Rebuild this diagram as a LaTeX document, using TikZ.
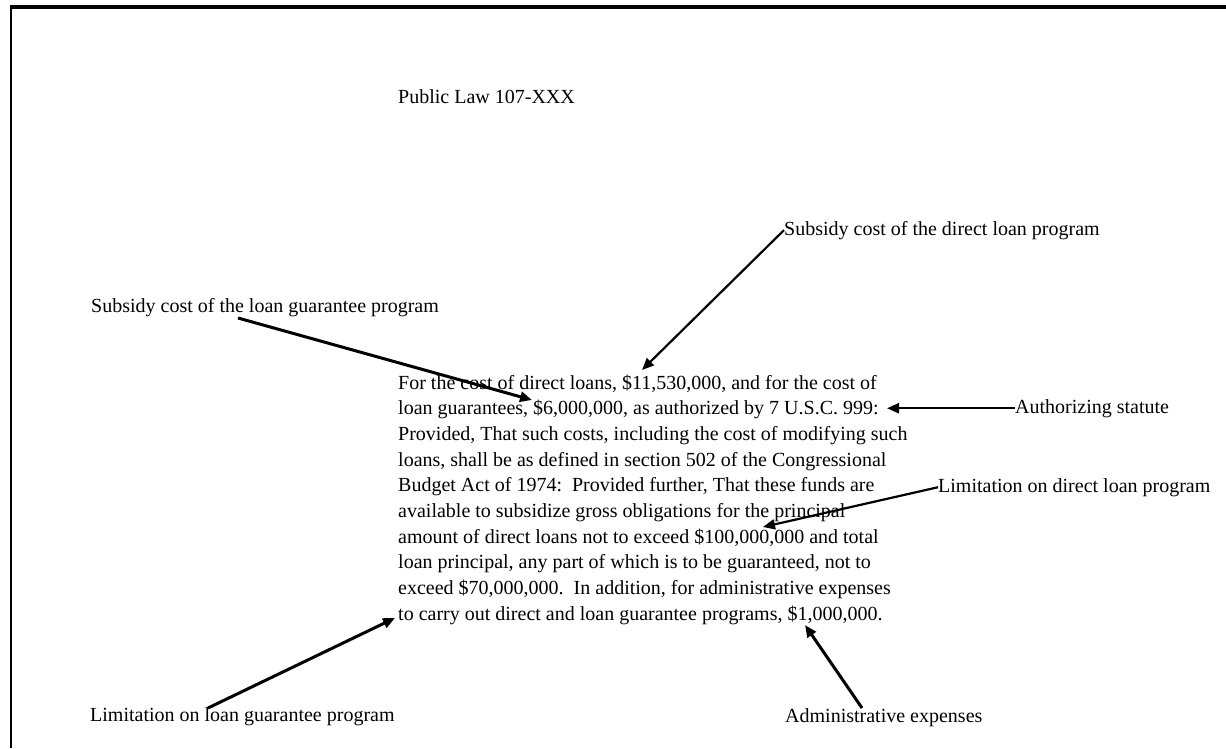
\documentclass[tikz,border=0pt]{standalone}
\usepackage{fontspec}
\setmainfont{Liberation Serif}
\usetikzlibrary{arrows.meta}
\tikzset{every node/.style={
inner sep=0pt,
font=\fontsize{20}{24}\selectfont},
lbl/.style={anchor=base west},
ptr/.style={
draw,
line width=2.2pt,
-{Triangle[length=12pt,width=10pt]}},
heavy/.style={line width=3pt}}

\begin{document}
\begin{tikzpicture}[x=1pt,y=-1pt]
\useasboundingbox (0,0) rectangle (1226,748);
\draw[line width=4pt] (10,7) -- (1226,7);
\draw[line width=2.5pt] (11,5) -- (11,748);
\node[lbl] (title) at (398,103) {Public Law 107-XXX};
\foreach \txt [count=\i] in {
{For the cost of direct loans, \$11,530,000, and for the cost of},
{loan guarantees, \$6,000,000, as authorized by 7 U.S.C. 999:},
{Provided, That such costs, including the cost of modifying such},
{loans, shall be as defined in section 502 of the Congressional},
{Budget Act of 1974:\ \ Provided further, That these funds are},
{available to subsidize gross obligations for the principal},
{amount of direct loans not to exceed \$100,000,000 and total},
{loan principal, any part of which is to be guaranteed, not to},
{exceed \$70,000,000.\ \ In addition, for administrative expenses},
{to carry out direct and loan guarantee programs, \$1,000,000.}}
\node[lbl] (ln\i) at (398,{389+(\i-1)*25.7}) {\txt};
\node[lbl] (dirsub) at (784,235) {Subsidy cost of the direct loan program};
\node[lbl] (gtysub) at (91,312) {Subsidy cost of the loan guarantee program};
\node[lbl] (statute) at (1015,413) {Authorizing statute};
\node[lbl] (dirlim) at (938,492) {Limitation on direct loan program};
\node[lbl] (gtylim) at (90,721) {Limitation on loan guarantee program};
\node[lbl] (admin) at (785,722) {Administrative expenses};
% arrow ends
\coordinate (gtyfrom) at (238,318);
\coordinate (limfrom) at (208,708);
\coordinate (admfrom) at (862,708);
\coordinate (dirto) at (642,370);
\coordinate (gtyto) at (532,400);
\coordinate (statto) at (887,407);
\coordinate (limto) at (763,527);
\coordinate (gltto) at (395,618);
\coordinate (admto) at (805,625);
\draw[ptr] (dirsub.west) -- (dirto);
\draw[ptr,heavy] (gtyfrom) -- (gtyto);
\draw[ptr] (statute.west) -- (statute.west -| statto);
\draw[ptr] (dirlim.west) -- (limto);
\draw[ptr,heavy] (limfrom) -- (gltto);
\draw[ptr,heavy] (admfrom) -- (admto);
\end{tikzpicture}
\end{document}
